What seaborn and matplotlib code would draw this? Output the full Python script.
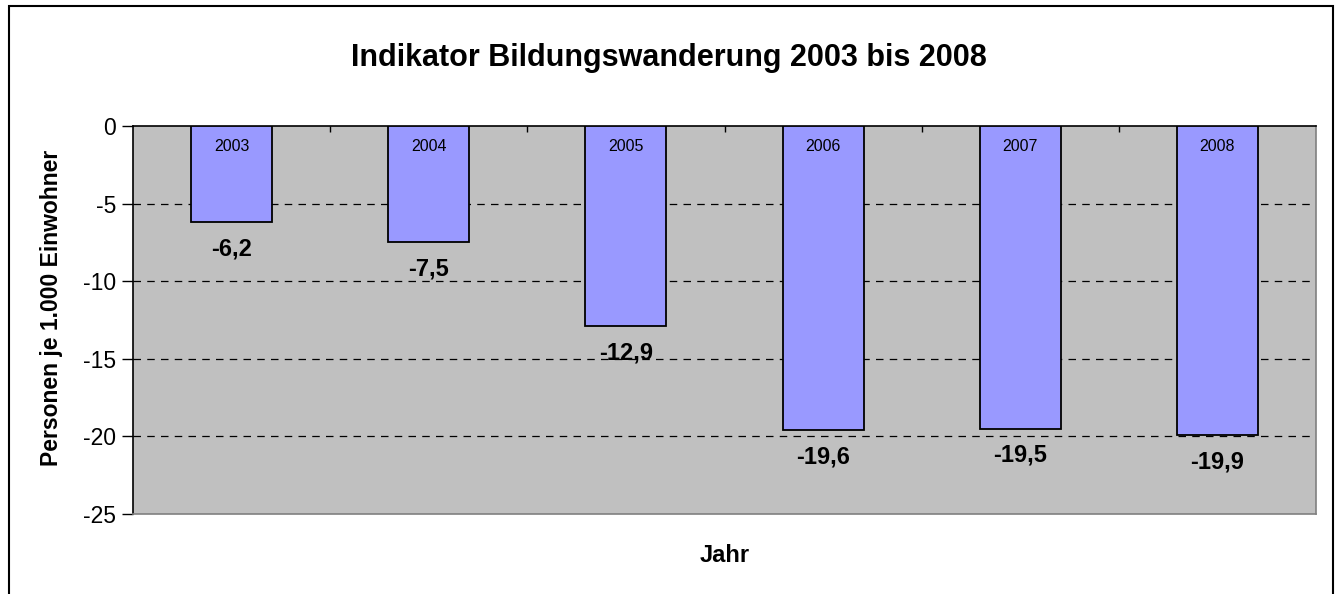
import matplotlib
matplotlib.use('Agg')
import matplotlib.pyplot as plt
from matplotlib.patches import Rectangle
import seaborn as sns
import pandas as pd

# --- chart data ---
years = ['2003', '2004', '2005', '2006', '2007', '2008']
values = [-6.2, -7.5, -12.9, -19.6, -19.5, -19.9]
y_ticks = [0, -5, -10, -15, -20, -25]

df = pd.DataFrame({'Jahr': years, 'Wert': values})

sns.set_style('white')
plt.rcParams['font.family'] = ['Liberation Sans', 'DejaVu Sans']
plt.rcParams['text.color'] = 'black'
plt.rcParams['xtick.color'] = 'black'
plt.rcParams['ytick.color'] = 'black'

W, H = 1338, 594
fig = plt.figure(figsize=(W / 100, H / 100), dpi=100)
ax = fig.add_axes([133 / W, 1 - 514 / H, (1316 - 133) / W, (514 - 126) / H])
ax.set_facecolor('#C0C0C0')

sns.barplot(data=df, x='Jahr', y='Wert', color='#9999FF', edgecolor='black',
            linewidth=1.3, width=0.41, saturation=1, ax=ax, zorder=3)

ax.set_ylim(-25, 0)
ax.set_xlim(-0.5, len(years) - 0.5)
ax.set_yticks(y_ticks)
ax.set_yticklabels([str(t) for t in y_ticks], fontsize=16.5, color='black')
ax.tick_params(axis='y', direction='out', length=8, width=1, color='black', pad=4, left=True)

# category axis sits at zero (top) with tick marks between categories
ax.xaxis.tick_top()
ax.set_xticks([i + 0.5 for i in range(len(years) - 1)])
ax.set_xticklabels([])
ax.tick_params(axis='x', direction='in', length=4, width=1, color='black', top=True, bottom=False)
ax.set_xlabel('')
ax.set_ylabel('')

for t in [-5, -10, -15, -20]:
    ax.axhline(t, color='black', linestyle=(0, (6, 5)), linewidth=0.9, zorder=1)

ax.spines['left'].set_color('black')
ax.spines['top'].set_color('black')
ax.spines['right'].set_color('#808080')
ax.spines['bottom'].set_color('#808080')
for s in ax.spines.values():
    s.set_linewidth(1.2)
    s.set_visible(True)

# labels inside and below bars
for i, (yr, v) in enumerate(zip(years, values)):
    ax.annotate(yr, (i, 0), xytext=(0, -15), textcoords='offset points',
                ha='center', va='center', fontsize=11.5, color='black', zorder=4)
    ax.annotate(f'{v:.1f}'.replace('.', ','), (i, v), xytext=(0, -11),
                textcoords='offset points', ha='center', va='top',
                fontsize=17, fontweight='bold', color='black', zorder=4)

fig.text(0.5, 1 - 66 / H, 'Indikator Bildungswanderung 2003 bis 2008',
         ha='center', va='baseline', fontsize=22, fontweight='bold', color='black')
fig.text(0.5 * (133 + 1316) / W, 1 - 556 / H, 'Jahr', ha='center', va='center',
         fontsize=17, fontweight='bold', color='black')
fig.text(52 / W, 1 - 308 / H, 'Personen je 1.000 Einwohner', ha='center', va='center',
         rotation=90, fontsize=16.5, fontweight='bold', color='black')

# chart frame
fig.add_artist(Rectangle((9 / W, -0.05), (1333 - 9) / W, 1 - 6 / H + 0.05,
                         fill=False, edgecolor='black', linewidth=1.5,
                         transform=fig.transFigure))

fig.savefig('out.png', dpi=100)
